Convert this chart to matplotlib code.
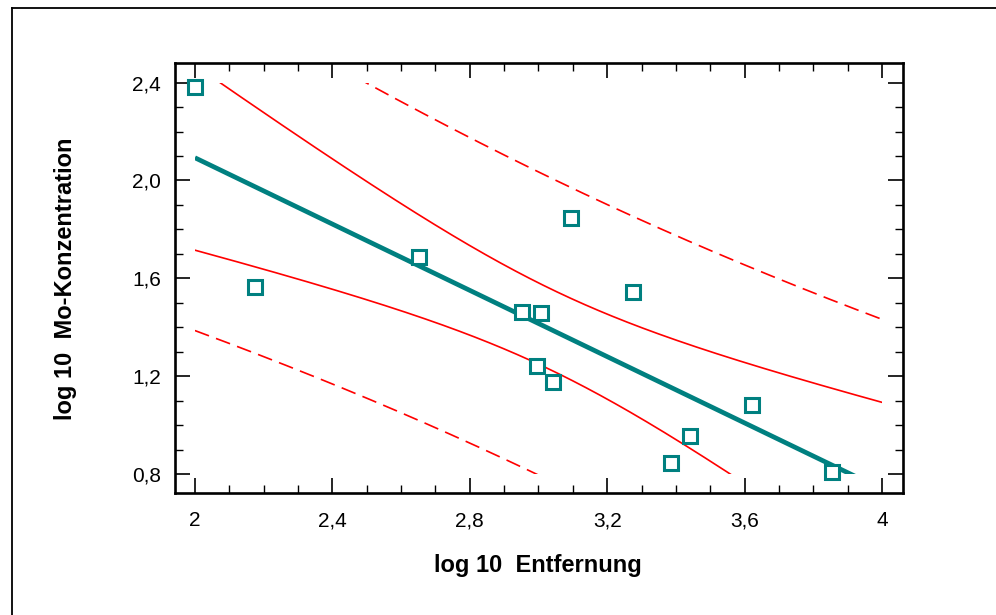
import numpy as np
import matplotlib
matplotlib.use("Agg")
import matplotlib.pyplot as plt
from matplotlib.patches import Rectangle
from matplotlib.lines import Line2D
from matplotlib.ticker import FixedLocator, MultipleLocator

# ---- data ----
log_entfernung = [2.000, 2.175, 2.653, 2.953, 3.006, 2.997, 3.041,
                  3.096, 3.276, 3.387, 3.442, 3.622, 3.855]
log_mo = [2.382, 1.565, 1.689, 1.464, 1.460, 1.240, 1.178,
          1.848, 1.546, 0.844, 0.954, 1.080, 0.807]

x_ticks = [2.0, 2.4, 2.8, 3.2, 3.6, 4.0]
x_ticklabels = ["2", "2,4", "2,8", "3,2", "3,6", "4"]
y_ticks = [0.8, 1.2, 1.6, 2.0, 2.4]
y_ticklabels = ["0,8", "1,2", "1,6", "2,0", "2,4"]

x_label = "log 10  Entfernung"
y_label = "log 10  Mo-Konzentration"

# fit range / clip window of the regression curves
fit_x_range = (2.0, 4.0)
fit_y_range = (0.8, 2.4)
t_975_df11 = 2.201  # Student t, 95 %, n-2 = 11

# ---- regression with 95 % confidence and prediction bands ----
x = np.asarray(log_entfernung)
y = np.asarray(log_mo)
n = len(x)
slope, intercept = np.polyfit(x, y, 1)
resid = y - (intercept + slope * x)
s = np.sqrt(np.sum(resid ** 2) / (n - 2))
sxx = np.sum((x - x.mean()) ** 2)

xg = np.linspace(fit_x_range[0], fit_x_range[1], 500)
yg = intercept + slope * xg
conf = t_975_df11 * s * np.sqrt(1.0 / n + (xg - x.mean()) ** 2 / sxx)
pred = t_975_df11 * s * np.sqrt(1.0 + 1.0 / n + (xg - x.mean()) ** 2 / sxx)

# ---- figure ----
plt.rcParams["font.family"] = ["Liberation Sans", "DejaVu Sans"]
W, H = 996, 615
fig = plt.figure(figsize=(W / 100, H / 100), dpi=100)
ax = fig.add_axes([175 / W, 1 - 493.3 / H, 728 / W, 430 / H])

ax.set_xlim(1.942, 4.061)
ax.set_ylim(0.721, 2.479)

teal = "#008080"
red = "#ff0000"

clip = Rectangle((fit_x_range[0], fit_y_range[0]),
                 fit_x_range[1] - fit_x_range[0],
                 fit_y_range[1] - fit_y_range[0],
                 transform=ax.transData, facecolor="none", edgecolor="none")

lines = []
lines += ax.plot(xg, yg + pred, color=red, lw=1.2, dashes=(9, 4.5))
lines += ax.plot(xg, yg - pred, color=red, lw=1.2, dashes=(9, 4.5))
lines += ax.plot(xg, yg + conf, color=red, lw=1.2)
lines += ax.plot(xg, yg - conf, color=red, lw=1.2)
lines += ax.plot(xg, yg, color=teal, lw=3.4, solid_capstyle="butt")
for ln in lines:
    ln.set_clip_path(clip)

ax.plot(x, y, linestyle="none", marker="s", markersize=10,
        markerfacecolor="white", markeredgecolor=teal, markeredgewidth=2.2,
        zorder=5, clip_on=False)

# ticks
ax.xaxis.set_major_locator(FixedLocator(x_ticks))
ax.set_xticklabels(x_ticklabels)
ax.yaxis.set_major_locator(FixedLocator(y_ticks))
ax.set_yticklabels(y_ticklabels)
ax.xaxis.set_minor_locator(MultipleLocator(0.1))
ax.yaxis.set_minor_locator(MultipleLocator(0.1))
ax.tick_params(which="both", direction="in", top=True, right=True,
               color="black")
ax.tick_params(which="major", length=10.8, width=1.2, labelsize=15)
ax.tick_params(which="minor", length=5.8, width=1.0)
ax.tick_params(axis="x", which="major", pad=13)
ax.tick_params(axis="y", which="major", pad=10)

for sp in ax.spines.values():
    sp.set_linewidth(1.9)
    sp.set_color("black")

ax.set_xlabel(x_label, fontsize=17, fontweight="bold", va="center")
ax.xaxis.set_label_coords(0.4986, -0.168)
ax.set_ylabel(y_label, fontsize=17, fontweight="bold", va="center")
ax.yaxis.set_label_coords(-0.151, 0.5)

# outer frame (open at right/bottom as in the reference)
fig.add_artist(Line2D([12 / W, 1.0], [1 - 8 / H, 1 - 8 / H],
                      transform=fig.transFigure, color="black", lw=1.3))
fig.add_artist(Line2D([12 / W, 12 / W], [0.0, 1 - 8 / H],
                      transform=fig.transFigure, color="black", lw=1.3))

fig.savefig("out.png", dpi=100)
